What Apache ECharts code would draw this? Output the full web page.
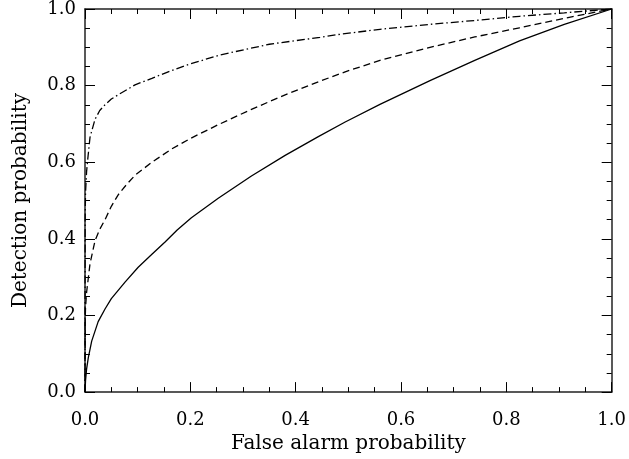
<!DOCTYPE html>
<html>
<head>
<meta charset="utf-8">
<script src="https://cdn.jsdelivr.net/npm/echarts@6/dist/echarts.min.js"></script>
<style>
  html, body { margin: 0; padding: 0; background: #fff; }
  #chart { width: 629px; height: 459px; }
</style>
</head>
<body>
<div id="chart"></div>
<script>
// false alarm probability (x) and detection probability (y) for each curve
var solidX = [0, 0.001, 0.003, 0.0063, 0.0127, 0.025, 0.038, 0.05, 0.076, 0.101, 0.125, 0.152, 0.175, 0.202, 0.253, 0.316, 0.38, 0.443, 0.494, 0.56, 0.655, 0.74, 0.825, 0.91, 1.0];
var solidY = [0, 0.03, 0.06, 0.09, 0.133, 0.184, 0.217, 0.244, 0.287, 0.326, 0.357, 0.392, 0.423, 0.455, 0.506, 0.564, 0.618, 0.667, 0.705, 0.751, 0.813, 0.866, 0.917, 0.96, 1.0];

var dashX = [0, 0.0005, 0.001, 0.003, 0.0095, 0.019, 0.028, 0.038, 0.05, 0.063, 0.079, 0.095, 0.127, 0.165, 0.2, 0.253, 0.316, 0.38, 0.443, 0.494, 0.56, 0.655, 0.74, 0.825, 0.926, 1.0];
var dashY = [0, 0.19, 0.22, 0.26, 0.335, 0.395, 0.425, 0.45, 0.485, 0.515, 0.542, 0.566, 0.60, 0.635, 0.662, 0.698, 0.738, 0.776, 0.81, 0.836, 0.866, 0.90, 0.927, 0.951, 0.98, 1.0];

var dotDashX = [0, 0.0003, 0.001, 0.003, 0.005, 0.0095, 0.019, 0.028, 0.038, 0.05, 0.063, 0.095, 0.127, 0.158, 0.196, 0.256, 0.35, 0.446, 0.484, 0.56, 0.655, 0.74, 0.825, 0.91, 1.0];
var dotDashY = [0, 0.45, 0.52, 0.575, 0.605, 0.665, 0.712, 0.735, 0.75, 0.765, 0.776, 0.802, 0.819, 0.836, 0.855, 0.88, 0.908, 0.926, 0.934, 0.947, 0.96, 0.97, 0.981, 0.99, 1.0];

var tickLabels = ["0.0", "0.2", "0.4", "0.6", "0.8", "1.0"];

function pairs(xs, ys) {
  return xs.map(function (x, i) { return [x, ys[i]]; });
}

var font = "DejaVu Serif";

function axis(pos, showLabels, name) {
  return {
    type: "value",
    position: pos,
    min: 0,
    max: 1,
    interval: 0.2,
    name: name,
    nameLocation: "middle",
    nameGap: pos === "left" ? 54 : 38,
    nameTextStyle: { color: "#000", fontFamily: font, fontSize: 20 },
    axisLine: { show: true, onZero: false, lineStyle: { color: "#222", width: 1.5 } },
    axisTick: { show: true, inside: true, length: 10, lineStyle: { color: "#000", width: 1 } },
    minorTick: { show: true, splitNumber: 4, length: 5, lineStyle: { color: "#000", width: 1 } },
    splitLine: { show: false },
    minorSplitLine: { show: false },
    axisLabel: {
      show: showLabels,
      color: "#000",
      fontFamily: font,
      fontSize: 18,
      margin: pos === "left" ? 9 : 19,
      formatter: function (v) { return tickLabels[Math.round(v / 0.2)]; }
    }
  };
}

var myChart = echarts.init(document.getElementById("chart"));
var option = {
  animation: false,
  backgroundColor: "#fff",
  grid: { left: 85, right: 17, top: 6, bottom: 64, containLabel: false },
  xAxis: [
    axis("bottom", true, "False alarm probability"),
    axis("top", false, "")
  ],
  yAxis: [
    axis("left", true, "Detection probability"),
    axis("right", false, "")
  ],
  series: [
    {
      type: "line",
      data: pairs(solidX, solidY),
      showSymbol: false,
      lineStyle: { color: "#000", width: 1.3, type: "solid" }
    },
    {
      type: "line",
      data: pairs(dashX, dashY),
      showSymbol: false,
      lineStyle: { color: "#000", width: 1.3, type: [7, 4] }
    },
    {
      type: "line",
      data: pairs(dotDashX, dotDashY),
      showSymbol: false,
      lineStyle: { color: "#000", width: 1.3, type: [8, 3, 1.5, 3] }
    }
  ]
};
myChart.setOption(option);
</script>
</body>
</html>
